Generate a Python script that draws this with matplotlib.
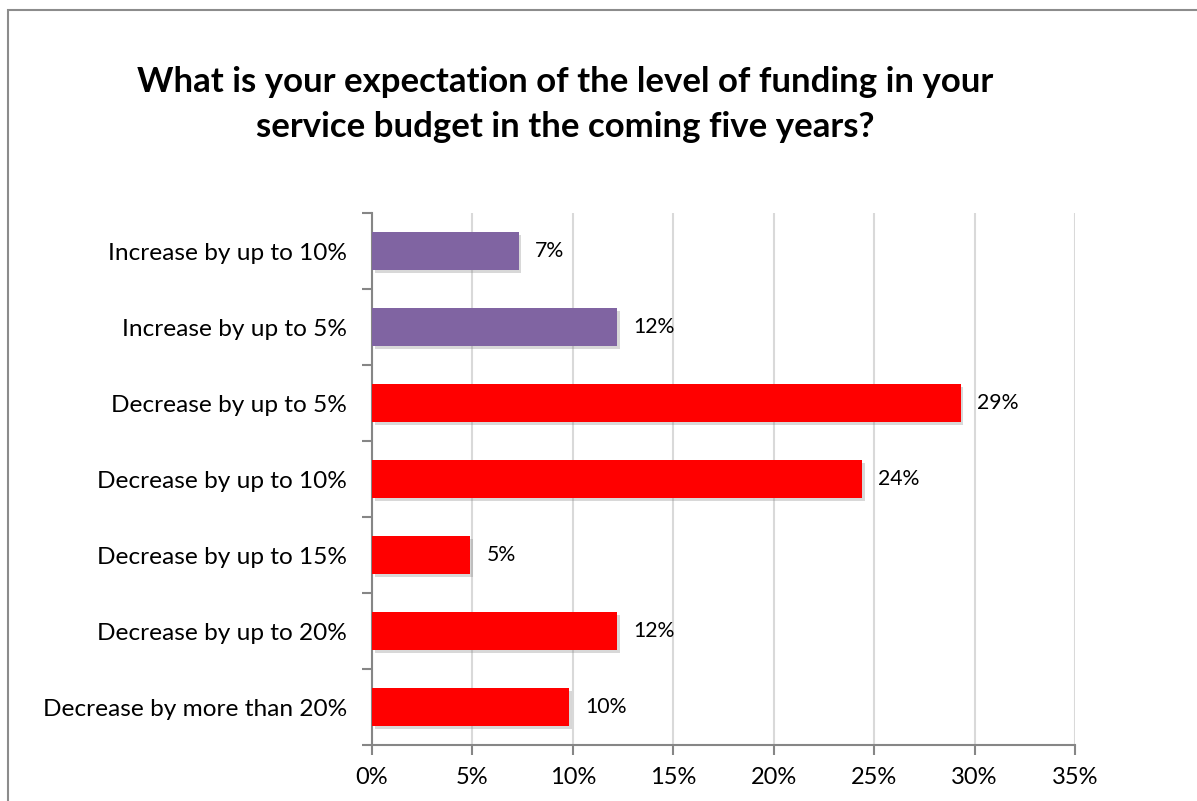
import matplotlib.pyplot as plt
from matplotlib.ticker import FixedLocator, FuncFormatter
from matplotlib.patches import Rectangle
import matplotlib.patheffects as pe

# Survey responses (share of respondents, %)
categories = ['Increase by up to 10%', 'Increase by up to 5%', 'Decrease by up to 5%',
              'Decrease by up to 10%', 'Decrease by up to 15%', 'Decrease by up to 20%',
              'Decrease by more than 20%']
shares = [7.3, 12.2, 29.3, 24.4, 4.9, 12.2, 9.8]
bar_colors = ['#8064A2', '#8064A2', '#FF0000', '#FF0000', '#FF0000', '#FF0000', '#FF0000']
x_ticks = [0, 5, 10, 15, 20, 25, 30, 35]

title = 'What is your expectation of the level of funding in your\nservice budget in the coming five years?'

plt.rcParams['font.family'] = ['Lato', 'DejaVu Sans']

fig = plt.figure(figsize=(11.97, 8.01), dpi=100)
ax = fig.add_axes([0.3108, 0.0699, 0.5873, 0.6641])

# outer chart frame
fig.patches.append(Rectangle((8 / 1197, -0.05), 1.2, 1 - 10 / 801 + 0.05, transform=fig.transFigure,
                             fill=False, edgecolor='#8C8C8C', linewidth=1.5, zorder=0))

ypos = list(range(len(categories)))
bars = ax.barh(ypos, shares, height=0.5, color=bar_colors, zorder=3)
for b in bars:
    b.set_path_effects([pe.SimplePatchShadow(offset=(2, -2), shadow_rgbFace='#808080', alpha=0.3), pe.Normal()])

for y, v in zip(ypos, shares):
    ax.text(v + 0.8, y, '{:.0f}%'.format(v), va='center', ha='left', fontsize=15.3, color='black')

ax.set_xlim(0, 35)
ax.set_ylim(len(categories) - 0.5, -0.5)
ax.xaxis.set_major_locator(FixedLocator(x_ticks))
ax.xaxis.set_major_formatter(FuncFormatter(lambda x, p: '{:.0f}%'.format(x)))
ax.set_yticks(ypos)
ax.set_yticklabels(categories)
ax.yaxis.set_minor_locator(FixedLocator([i - 0.5 for i in range(len(categories) + 1)]))
ax.tick_params(axis='y', which='major', length=0, pad=18, labelsize=17.6)
ax.tick_params(axis='y', which='minor', length=7, width=1.5, color='#868686', direction='out')
ax.tick_params(axis='x', length=7, width=1.5, color='#868686', direction='out', labelsize=17, pad=9)

ax.grid(axis='x', color='#D9D9D9', linewidth=1.5, zorder=0)
for s in ['top', 'right']:
    ax.spines[s].set_visible(False)
for s in ['left', 'bottom']:
    ax.spines[s].set_color('#868686')
    ax.spines[s].set_linewidth(1.5)

fig.text(0.472, 0.87, title, ha='center', va='center', fontsize=25, fontweight='bold',
         linespacing=1.5)

fig.savefig('out.png', dpi=100)
